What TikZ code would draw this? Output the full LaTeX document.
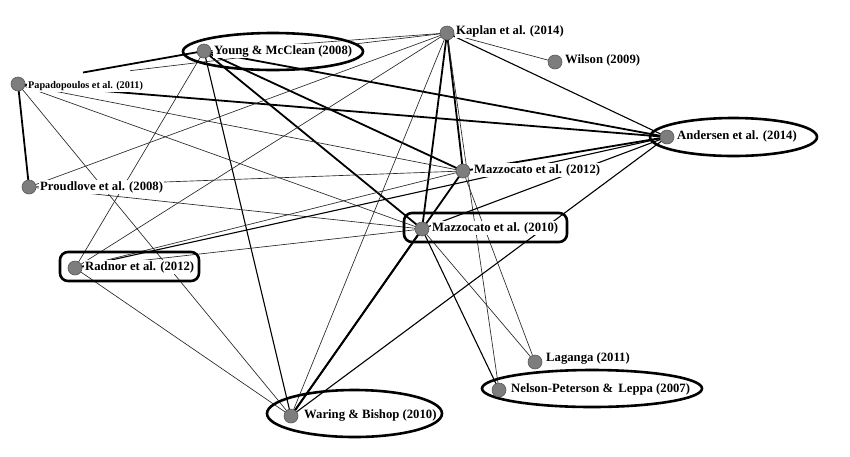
\documentclass[tikz,border=0pt]{standalone}
\usepackage{fontspec}
\setmainfont{Liberation Serif}
\usetikzlibrary{shapes.geometric}
\definecolor{dotgray}{RGB}{125,125,125}
\begin{document}
\begin{tikzpicture}[x=1pt,y=-1pt,
  dot/.style={circle,fill=dotgray,draw=black!65,line width=0.6pt,minimum size=14pt,inner sep=0pt},
  lab/.style={anchor=west,fill=white,inner sep=1pt,font=\fontsize{12.7}{14}\selectfont\bfseries},
  smalllab/.style={anchor=west,fill=white,inner sep=1pt,font=\fontsize{10.2}{12}\selectfont\bfseries},
  ethin/.style={draw=black!85,line width=0.65pt},
  emed/.style={draw=black,line width=1.1pt},
  ethick/.style={draw=black,line width=1.8pt},
  ring/.style={ellipse,draw=black,line width=2.6pt,inner sep=0pt},
  tagbox/.style={rectangle,rounded corners=8pt,draw=black,line width=2.6pt,inner sep=0pt}]
\fill[white] (0,0) rectangle (850,456);
\useasboundingbox (0,0) rectangle (850,456);
% node positions (dots)
\coordinate (yo) at (204,51);
\coordinate (ka) at (447,33);
\coordinate (wi) at (555,62);
\coordinate (pa) at (18,84);
\coordinate (pr) at (29,187);
\coordinate (an) at (667,137);
\coordinate (m12) at (463,171);
\coordinate (m10) at (422,229);
\coordinate (ra) at (75,268);
\coordinate (wa) at (291,416);
\coordinate (la) at (535,362);
\coordinate (ne) at (499,390);
\coordinate (yp) at (83,72.5);
\coordinate (pk) at (130,70.7);
% edges
\draw[ethick] (pa) -- (pr);
\draw[ethick] (yo) -- (yp);
\draw[ethick] (yo) -- (an);
\draw[ethick] (pa) -- (an);
\draw[ethick] (yo) -- (m12);
\draw[ethick] (yo) -- (m10);
\draw[ethick] (ka) -- (m12);
\draw[ethick] (ka) -- (m10);
\draw[ethick] (wa) -- (m12);
\draw[ethick] (wa) -- (m10);
\draw[ethick] (m12) -- (an);
\draw[emed] (yo) -- (wa);
\draw[emed] (m10) -- (ne);
\draw[emed] (ka) -- (an);
\draw[ethin] (ka) -- (wi);
\draw[ethin] (yo) -- (ka);
\draw[ethin] (pk) -- (ka);
\draw[ethin] (yo) -- (ra);
\draw[ethin] (pa) -- (wa);
\draw[ethin] (pa) -- (m12);
\draw[ethin] (pa) -- (m10);
\draw[ethin] (pr) -- (ka);
\draw[ethin] (pr) -- (m12);
\draw[ethin] (pr) -- (m10);
\draw[ethin] (ra) -- (wa);
\draw[ethin] (ra) -- (ka);
\draw[ethin] (ra) -- (m12);
\draw[ethin] (ra) -- (m10);
\draw[emed] (ra) -- (an);
\draw[ethin] (ka) -- (wa);
\draw[ethin] (ka) -- (ne);
\draw[ethin] (m12) -- (la);
\draw[ethin] (m10) -- (la);
\draw[emed] (wa) -- (an);
\draw[emed] (m10) -- (an);
% labels
\node[lab] (yoL) at (213,51) {Young \& McClean (2008)};
\node[lab] (kaL) at (455,31) {Kaplan et al. (2014)};
\node[lab] (wiL) at (564,60) {Wilson (2009)};
\node[smalllab] (paL) at (27,86) {Papadopoulos et al. (2011)};
\node[lab] (prL) at (39,187) {Proudlove et al. (2008)};
\node[lab] (anL) at (676,136) {Andersen et al. (2014)};
\node[lab] (m12L) at (473,170) {Mazzocato et al. (2012)};
\node[lab] (m10L) at (431,228) {Mazzocato et al. (2010)};
\node[lab] (raL) at (84,267) {Radnor et al. (2012)};
\node[lab] (waL) at (303,415) {Waring \& Bishop (2010)};
\node[lab] (laL) at (545,358) {Laganga (2011)};
\node[lab] (neL) at (510,389) {Nelson-Peterson \& \,Leppa (2007)};
% highlight frames
\node[ring,minimum width=180pt,minimum height=37pt] (yoR) at (273,51.5) {};
\node[ring,minimum width=167pt,minimum height=38pt] (anR) at (733.5,137) {};
\node[ring,minimum width=175pt,minimum height=47pt] (waR) at (354.5,413.5) {};
\node[ring,minimum width=220pt,minimum height=37pt] (neR) at (592,388.5) {};
\node[tagbox,minimum width=163pt,minimum height=29pt] (m10R) at (485.5,227.5) {};
\node[tagbox,minimum width=139pt,minimum height=29pt] (raR) at (129.5,266.5) {};
% dots
\foreach \n in {yo,ka,wi,pa,pr,an,m12,m10,ra,wa,la,ne}
  \node[dot] (\n D) at (\n) {};
\end{tikzpicture}
\end{document}
